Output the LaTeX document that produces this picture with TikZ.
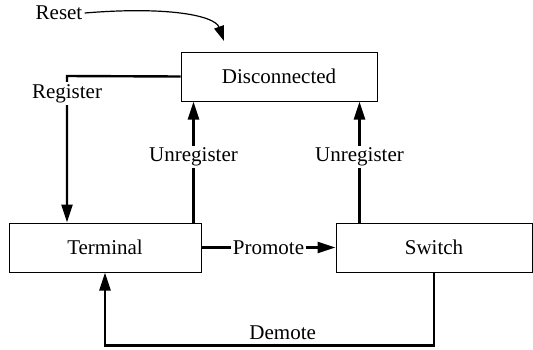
\documentclass[tikz,border=0pt]{standalone}
\usepackage{fontspec}
\setmainfont{Liberation Serif}
\usepackage{tikz}
\usetikzlibrary{arrows.meta,positioning}

\begin{document}
\begin{tikzpicture}[x=0.5pt, y=-0.5pt,
  box/.style={draw, line width=0.5pt, minimum width=#1, minimum height=24.5pt,
              inner sep=0pt, font=\fontsize{10.5}{12}\selectfont},
  box/.default=97pt,
  arr/.style={-{Triangle[length=9pt, width=5.5pt]}, line width=1.2pt, #1},
  arr/.default=black,
  lbl/.style={font=\fontsize{10.5}{12}\selectfont, fill=white, inner sep=1pt},
]
\useasboundingbox (0,0) rectangle (533,349);
% Nodes
\node[box=98pt] (disc) at (279,76.5)  {Disconnected};
\node[box=96pt] (term) at (105,247.5) {Terminal};
\node[box=98pt] (sw)   at (434,247.5) {Switch};
\node[lbl]      (reset) at (59,13)    {Reset};
\coordinate (regx)  at (67,76);
\coordinate (rtip)  at (224,41);
% Arrows
\draw[arr] (disc.west) -- (regx) -- node[lbl, pos=0.12]{Register} (regx |- term.north);
\draw[arr] ([xshift=-4pt]term.north east) -- node[lbl, pos=0.54]{Unregister}
           ([xshift=-4pt]term.north east |- disc.south);
\draw[arr] ([xshift=12pt]sw.north west) -- node[lbl, pos=0.54]{Unregister}
           ([xshift=12pt]sw.north west |- disc.south);
\draw[arr] (term) -- node[lbl]{Promote} (sw);
\draw[arr] (sw.south) -- ++(0,73) -| node[lbl, above, pos=0.23, yshift=1.5pt]{Demote} (term.south);
% Reset note
\draw[-{Triangle[length=7.5pt, width=5pt]}, line width=0.6pt]
     (reset.east) .. controls (170,6) and (215,16) .. (rtip);
\end{tikzpicture}
\end{document}
